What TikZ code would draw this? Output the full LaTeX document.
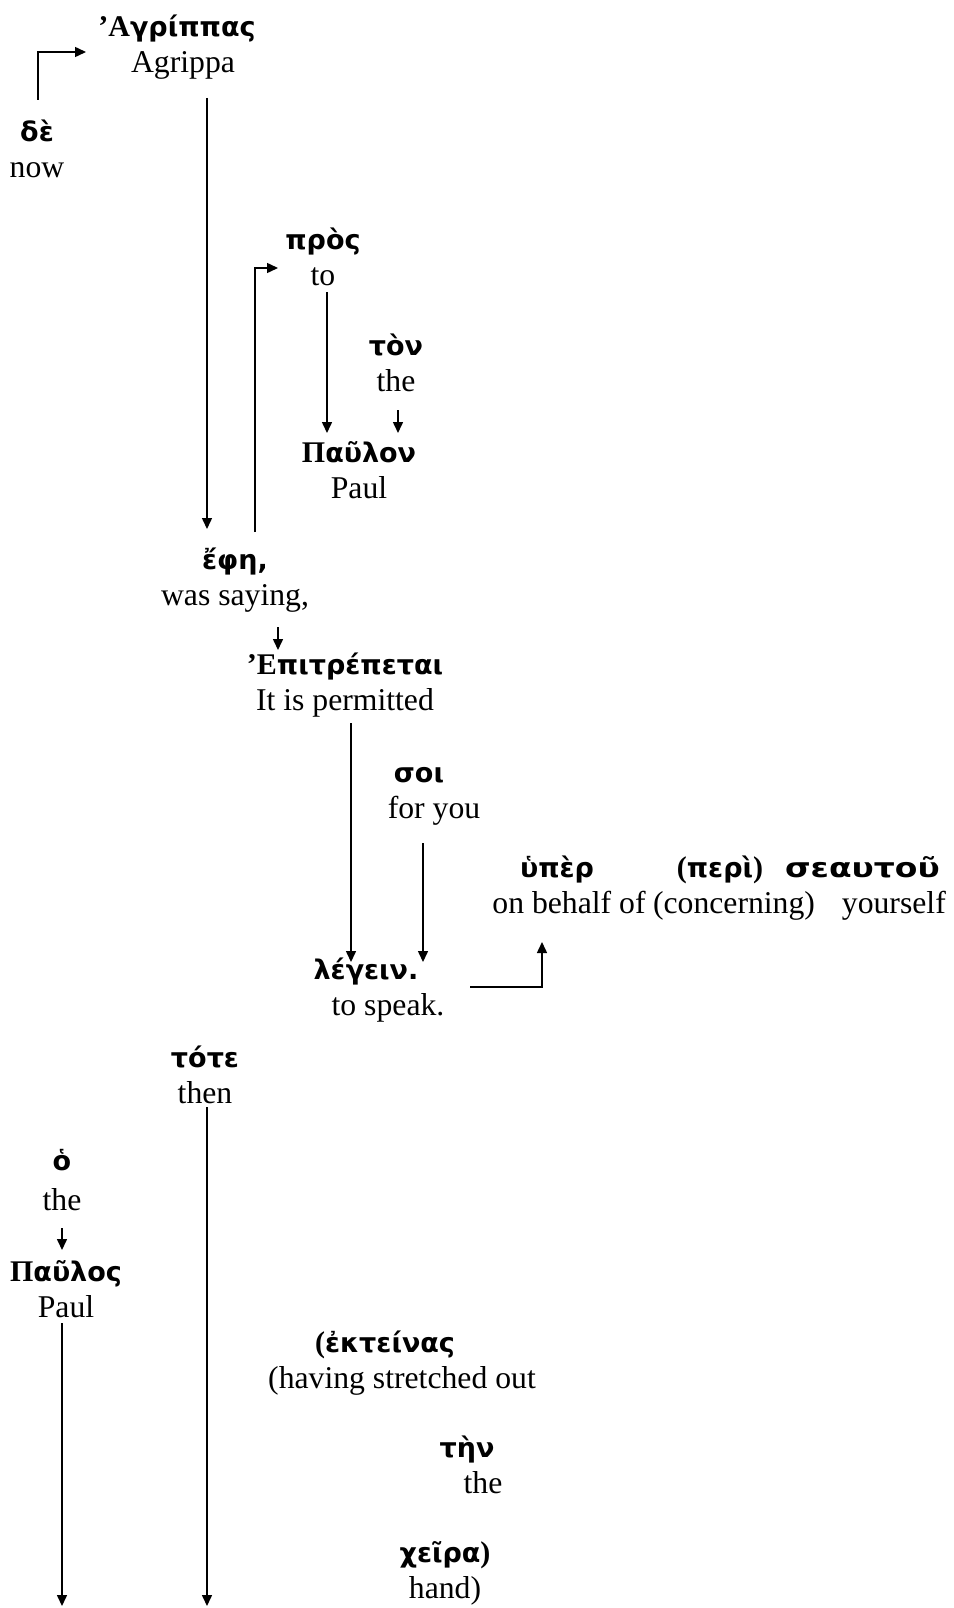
\documentclass[tikz,border=0pt]{standalone}
\usepackage{fontspec}
\setmainfont{Liberation Serif}
\newfontfamily\gkfont{DejaVu Sans}
\usetikzlibrary{arrows.meta}

% greek word (sans, bold) and the serif bold capitals/brackets
\newcommand\gk[1]{{\gkfont\bfseries\fontsize{27}{36}\selectfont #1}}
\newcommand\gcap[1]{{\bfseries\fontsize{30}{36}\selectfont #1}}

\begin{document}
\begin{tikzpicture}[
  x=1pt, y=-1pt,
  word/.style={align=center, anchor=base, inner sep=0pt, font=\fontsize{31.7}{36}\selectfont},
  arrow/.style={line width=1.5pt, -{Triangle[length=11pt,width=10pt]}}
]
  \useasboundingbox (0,0) rectangle (953,1608);

  % words: greek over english, placed on the english baseline
  \node[word] (agr) at (183,73) {\gcap{’Α}\gk{γρίππας}\hspace*{12pt}\\ Agrippa};
  \node[word] (de) at (37,178) {\gk{δὲ}\\ now};
  \node[word] (pros) at (323,285) {\gk{πρὸς}\\ to};
  \node[word] (ton) at (396,391) {\gk{τὸν}\\ the};
  \node[word] (paulon) at (359,498) {\gcap{Π}\gk{αῦλον}\\ Paul};
  \node[word] (ephe) at (235,605) {\gk{ἔφη,}\\ was saying,};
  \node[word] (epitr) at (345,710) {\gcap{’Ε}\gk{πιτρέπεται}\\ It is permitted};
  \node[word] (soi) at (434,818) {\gk{σοι}\hspace*{30pt}\\ for you};
  \node[word] (legein) at (388,1015) {\gk{λέγειν.}\hspace*{44pt}\\ to speak.};
  \node[word] (uper) at (569,913) {\gk{ὑπὲρ}\hspace*{24pt}\\ on behalf of};
  \node[word] (peri) at (734,913) {\gcap{(}\gk{περὶ}\gcap{)}\hspace*{28pt}\\ (concerning)};
  \node[word, align=right, anchor=base east] (seautou) at (946,913)
    {\gk{\addfontfeature{FakeStretch=1.22}σεαυτοῦ}\hspace*{6pt}\\ yourself};
  \node[word] (tote) at (205,1103) {\gk{τότε}\\ then};
  \node[word] (ho) at (62,1210) {\gk{ὁ}\\[4pt] the};
  \node[word] (paulos) at (66,1317) {\gcap{Π}\gk{αῦλος}\\ Paul};
  \node[word] (ekteinas) at (402,1388) {\gcap{(}\gk{ἐκτείνας}\hspace*{34pt}\\ (having stretched out};
  \node[word] (ten) at (483,1493) {\gk{τὴν}\hspace*{32pt}\\ the};
  \node[word] (cheira) at (445,1598) {\gk{χεῖρα}\gcap{)}\\ hand)};

  % open ends at the foot of the page
  \coordinate (toteend) at (207,1606);
  \coordinate (paulosend) at (62,1606);

  % connectors
  \draw[arrow] ([shift={(1,-78)}]de.base) |- ([shift={(-97,-21)}]agr.base);
  \draw[arrow] ([shift={(24,25)}]agr.base) -- ([shift={(-28,-76)}]ephe.base);
  \draw[arrow] ([shift={(20,-73)}]ephe.base) |- ([shift={(-45,-17)}]pros.base);
  \draw[arrow] ([shift={(4,7)}]pros.base) -- ([shift={(-32,-65)}]paulon.base);
  \draw[arrow] ([shift={(2,19)}]ton.base) -- ([shift={(39,-65)}]paulon.base);
  \draw[arrow] ([shift={(43,22)}]ephe.base) -- ([shift={(-67,-60)}]epitr.base);
  \draw[arrow] ([shift={(6,13)}]epitr.base) -- ([shift={(-37,-53)}]legein.base);
  \draw[arrow] ([shift={(-11,25)}]soi.base) -- ([shift={(35,-53)}]legein.base);
  \draw[arrow] ([shift={(82,-28)}]legein.base) -| ([shift={(-27,29)}]uper.base);
  \draw[arrow] ([shift={(2,4)}]tote.base) -- (toteend);
  \draw[arrow] ([shift={(0,18)}]ho.base) -- ([shift={(-4,-67)}]paulos.base);
  \draw[arrow] ([shift={(-4,6)}]paulos.base) -- (paulosend);
\end{tikzpicture}
\end{document}
